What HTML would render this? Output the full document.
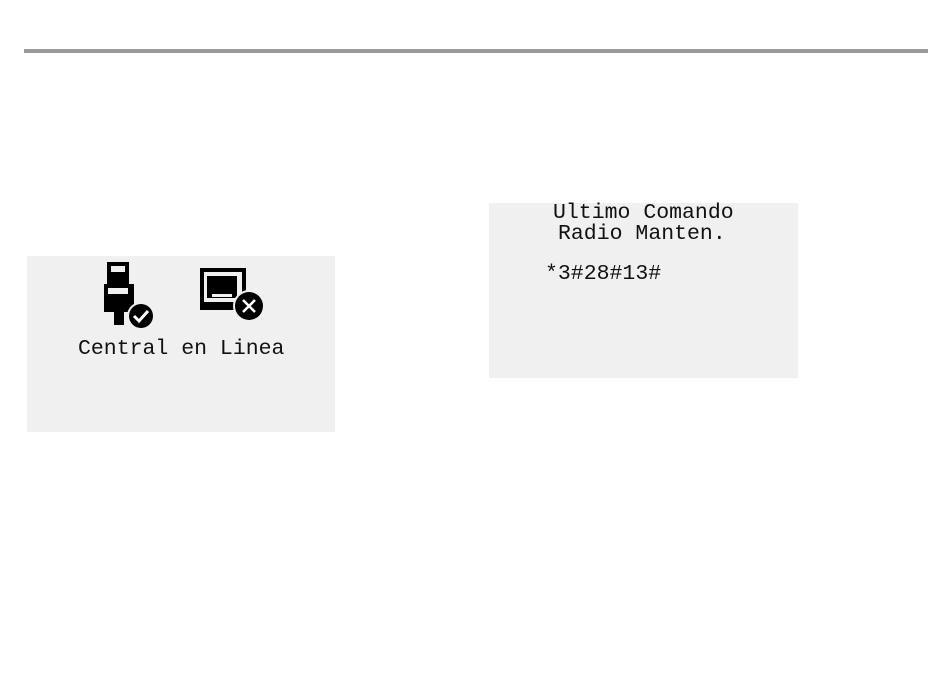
<!DOCTYPE html>
<html><head><style>
body{margin:0;width:950px;height:692px;background:#fff;position:relative;overflow:hidden;font-family:"Liberation Mono",monospace;}
.rule{position:absolute;left:24px;top:49px;width:904px;height:4px;background:#999;}
.box{position:absolute;background:#f0f0f0;}
.t{position:absolute;font-size:21.5px;color:#111;white-space:pre;line-height:1;}
</style></head><body>
<div class="rule"></div>
<div class="box" style="left:27px;top:256px;width:308px;height:176px;"></div>
<div class="box" style="left:489px;top:203px;width:309px;height:175px;"></div>
<svg style="position:absolute;left:0;top:0" width="950" height="692">
<!-- plug -->
<rect x="107" y="262" width="22" height="22" fill="#000"/>
<rect x="111" y="266" width="14" height="6" fill="#f0f0f0"/>
<rect x="104" y="284" width="30" height="28" fill="#000"/>
<rect x="108" y="288" width="20" height="6" fill="#f0f0f0"/>
<rect x="114" y="312" width="10" height="13" fill="#000"/>
<circle cx="141" cy="316" r="14" fill="#f0f0f0"/>
<circle cx="141" cy="316" r="12" fill="#000"/>
<path d="M134 316 l5 5 l9 -10" stroke="#fff" stroke-width="3" fill="none"/>
<!-- monitor -->
<rect x="200" y="268" width="46" height="42" fill="#000"/>
<rect x="204" y="272" width="38" height="30" fill="#f0f0f0"/>
<path d="M207 276 h30 v22 h-30z" fill="#000"/>
<rect x="212" y="294" width="20" height="3" fill="#f0f0f0"/>
<circle cx="249" cy="306" r="16" fill="#f0f0f0"/>
<circle cx="249" cy="306" r="14" fill="#000"/>
<path d="M243 300 l12 12 M255 300 l-12 12" stroke="#fff" stroke-width="2.5"/>
</svg>
<div class="t" style="left:78px;top:339px;">Central en Linea</div>
<div class="t" style="left:553px;top:203px;">Ultimo Comando</div>
<div class="t" style="left:558px;top:224px;">Radio Manten.</div>
<div class="t" style="left:545px;top:264px;">*3#28#13#</div>
</body></html>
